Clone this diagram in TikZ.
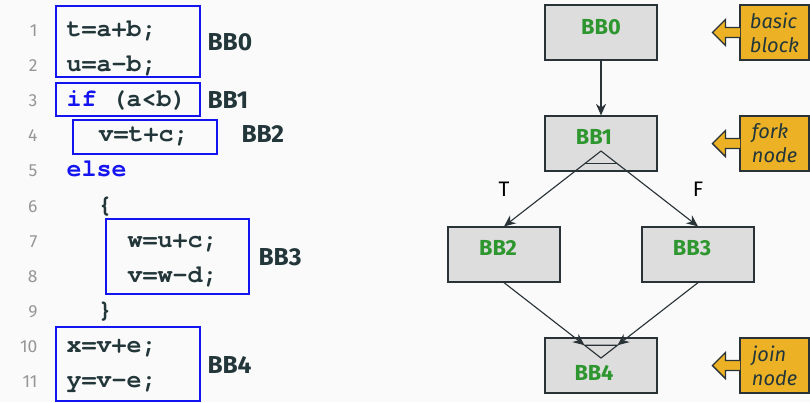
\documentclass[tikz,border=0pt]{standalone}
\usepackage{fontspec}
\setmainfont{Fira Sans}
\setsansfont{Fira Sans}
\setmonofont{TeX Gyre Cursor}
\usepackage{tikz}
\usetikzlibrary{arrows.meta,positioning,calc}

\definecolor{pagebg}{RGB}{250,250,250}
\definecolor{darktext}{RGB}{35,55,59}
\definecolor{edgecol}{RGB}{40,50,55}
\definecolor{codeblue}{RGB}{20,20,240}
\definecolor{bbgreen}{RGB}{46,150,46}
\definecolor{blockfill}{RGB}{221,221,221}
\definecolor{notefill}{RGB}{236,177,36}
\definecolor{linegray}{RGB}{150,150,150}

\newcommand{\kw}[1]{\textcolor{codeblue}{#1}}
% little arrow on the west side of a note box
\newcommand{\notetip}[1]{%
  \filldraw[note] ([xshift=0.25pt,yshift=-2pt]#1.west) -- ++(-5.85pt,0pt) -- ++(0pt,-3.2pt)
    -- ++(-5.2pt,5.2pt) -- ++(5.2pt,5.2pt) -- ++(0pt,-3.2pt) -- ++(5.85pt,0pt);}

\begin{document}
\begin{tikzpicture}[x=0.4pt,y=-0.4pt,>={Stealth[length=4.6pt,width=4pt]},on grid,node distance=44.4pt,
    edgecol,line width=0.45pt]
  \tikzstyle{code}=[font=\ttfamily\bfseries\fontsize{10}{12}\selectfont,text=darktext,anchor=base west,inner sep=0pt]
  \tikzstyle{lineno}=[font=\fontsize{7}{8}\selectfont,text=linegray,anchor=base east,inner sep=0pt]
  \tikzstyle{bbtag}=[font=\bfseries\fontsize{9.8}{11}\selectfont,text=darktext,anchor=base west,inner sep=0pt]
  \tikzstyle{codebox}=[draw=codeblue,line width=0.8pt]
  \tikzstyle{block}=[draw=edgecol,fill=blockfill,line width=0.5pt,minimum width=44.8pt,minimum height=22pt]
  \tikzstyle{bbname}=[font=\bfseries\fontsize{8.7}{10}\selectfont,text=bbgreen,inner sep=0pt]
  \tikzstyle{branch}=[font=\fontsize{8.4}{9}\selectfont,text=black,inner sep=0pt]
  \tikzstyle{note}=[draw=edgecol,fill=notefill,line width=0.5pt]

  \useasboundingbox (0,0) rectangle (810,402);
  \fill[pagebg] (0,0) rectangle (810,402);

  % source listing
  \node[lineno] (n1)  at (38,36)  {1};
  \node[lineno] (n2)  at (38,71)  {2};
  \node[lineno] (n3)  at (38,106) {3};
  \node[lineno] (n4)  at (38,141) {4};
  \node[lineno] (n5)  at (38,176) {5};
  \node[lineno] (n6)  at (38,212) {6};
  \node[lineno] (n7)  at (38,247) {7};
  \node[lineno] (n8)  at (38,282) {8};
  \node[lineno] (n9)  at (38,317) {9};
  \node[lineno] (n10) at (38,352) {10};
  \node[lineno] (n11) at (38,387) {11};

  \node[code] (l1)  at (66,36)  {t=a+b;};
  \node[code] (l2)  at (66,71)  {u=a-b;};
  \node[code] (l3)  at (66,106) {\kw{if} (a<b)};
  \node[code] (l4)  at (98,141) {v=t+c;};
  \node[code] (l5)  at (66,176) {\kw{else}};
  \node[code] (l6)  at (97,212) {\{};
  \node[code] (l7)  at (127,247) {w=u+c;};
  \node[code] (l8)  at (127,282) {v=w-d;};
  \node[code] (l9)  at (97,317) {\}};
  \node[code] (l10) at (66,352) {x=v+e;};
  \node[code] (l11) at (66,387) {y=v-e;};

  \draw[codebox] (56,6) rectangle (200,77);
  \draw[codebox] (56,83) rectangle (200,116);
  \draw[codebox] (73,120) rectangle (217,154);
  \draw[codebox] (106,219) rectangle (249,294);
  \draw[codebox] (56,327) rectangle (200,401);

  \node[bbtag] (tag0) at (207,50)  {BB0};
  \node[bbtag] (tag1) at (207,108) {BB1};
  \node[bbtag] (tag2) at (241,142) {BB2};
  \node[bbtag] (tag3) at (258,265) {BB3};
  \node[bbtag] (tag4) at (207,373) {BB4};

  % control flow graph
  \node[block] (BB0) at (601,32.5) [label={[bbname,yshift=2.2pt]center:BB0}] {};
  \node[block] (BB1) [below=of BB0, label={[bbname,xshift=-2.8pt,yshift=2.6pt]center:BB1}] {};
  \node[block] (BB2) [below left=44.4pt and 38.8pt of BB1, label={[bbname,xshift=-2.4pt,yshift=2.6pt]center:BB2}] {};
  \node[block] (BB3) [below right=44.4pt and 38.8pt of BB1, label={[bbname,xshift=-2.4pt,yshift=2.6pt]center:BB3}] {};
  \node[block] (BB4) [below=88.8pt of BB1, label={[bbname,xshift=-2.8pt,yshift=-3pt]center:BB4}] {};

  \coordinate (fork) at ([yshift=-3pt]BB1.center);
  \coordinate (join) at ([yshift=3pt]BB4.center);
  \coordinate (inL) at ($(BB2.south)!0.83!(join)$);
  \coordinate (inR) at ($(BB3.south)!0.83!(join)$);

  \draw[->] (BB0) -- (BB1);
  \draw[->] (fork) -- (BB2.north);
  \draw[->] (fork) -- (BB3.north);
  \draw ($(fork)!0.16!(BB2.north)$) -- ($(fork)!0.16!(BB3.north)$);
  \draw[->] (BB2.south) -- (inL);
  \draw[->] (BB3.south) -- (inR);
  \draw (inL) -- (join) -- (inR) -- cycle;

  \node[branch] (T) [above=11.6pt of BB2.north] {T};
  \node[branch] (F) [above=11.6pt of BB3.north] {F};

  % notes
  \tikzstyle{notebox}=[note,minimum width=27.6pt,minimum height=22pt,inner sep=0pt,align=left,
    text=darktext,font=\itshape\fontsize{8}{9.6}\selectfont]
  \node[notebox] (basic) [right=69.4pt of BB0] {basic\\block};
  \node[notebox] (fork note) [right=69.4pt of BB1] {fork\\node};
  \node[notebox] (join note) [right=69.4pt of BB4] {join\\node};
  \notetip{basic}
  \notetip{fork note}
  \notetip{join note}
\end{tikzpicture}
\end{document}
